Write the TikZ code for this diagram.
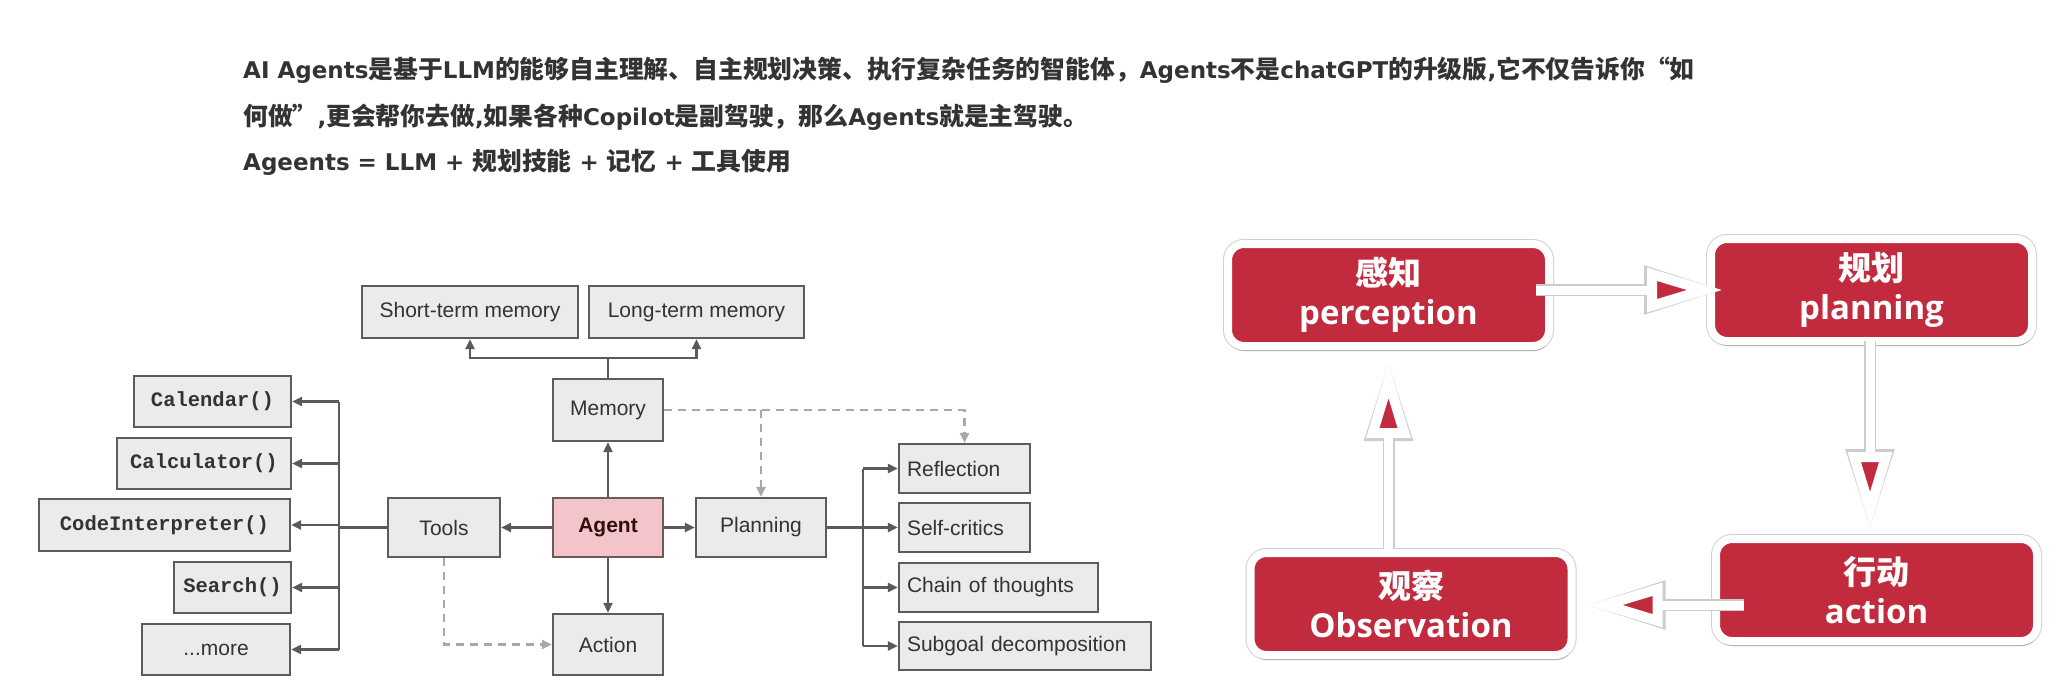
\documentclass[tikz,border=0pt]{standalone}
\usepackage{fontspec}
\setmainfont{Liberation Sans}
\newfontfamily\cjkf{Noto Sans CJK SC}
\newfontfamily\osf{Open Sans}
\newfontfamily\dvf{DejaVu Sans}
\newfontfamily\monof{Liberation Mono}
\usetikzlibrary{arrows.meta,shadows,calc}
\definecolor{boxgray}{HTML}{EBEBEB}
\definecolor{bordgray}{HTML}{5C5C5C}
\definecolor{conngray}{HTML}{5A5A5A}
\definecolor{dashgray}{HTML}{A8A8A8}
\definecolor{agpink}{HTML}{F3C5CA}
\definecolor{agbord}{HTML}{6E5A5A}
\definecolor{txtgray}{HTML}{333333}
\definecolor{boxred}{HTML}{C22B3D}
\newcommand\lat[1]{{\dvf\fontsize{23}{28}\selectfont #1}}
\newcommand\latb[1]{{\osf #1}}
\begin{document}
\begin{tikzpicture}[x=1pt,y=-1pt,
  toptext/.style={inner sep=0, anchor=base west, text=txtgray, font=\cjkf\bfseries\fontsize{24.8}{28}\selectfont},
  gbox/.style={draw=bordgray, fill=boxgray, line width=2.2, inner sep=0, text=txtgray, font=\fontsize{21}{25}\selectfont},
  agbox/.style={gbox, draw=agbord, fill=agpink, text={rgb,255:red,50;green,15;blue,15}, font=\bfseries\fontsize{21}{25}\selectfont},
  subbox/.style={gbox, inner xsep=8, align=left, minimum height=49},
  toolbox/.style={gbox, minimum height=51, font=\monof\bfseries\fontsize{20.5}{25}\selectfont},
  conn/.style={draw=conngray, line width=2.4, -{Triangle[length=10pt,width=9pt]}},
  bus/.style={draw=conngray, line width=2.4},
  dconn/.style={draw=dashgray, line width=2.2, dash pattern=on 8pt off 6pt, -{Triangle[length=10pt,width=9pt]}},
  rbox/.style={fill=boxred, draw=white, line width=8, rounded corners=16, minimum width=321, minimum height=102,
     align=center, text=white, font=\cjkf\bfseries\fontsize{33}{39}\selectfont,
     preaction={draw=black!18, line width=10},
     drop shadow={shadow xshift=1pt, shadow yshift=-5pt, opacity=0.18, fill=black}},
  bigarrow/.style={draw=white, line width=9, -{Triangle[length=76pt,width=42pt,fill=boxred,line width=10pt]},
     preaction={draw=black!20, line width=12, -{Triangle[length=79pt,width=46pt,fill=black!20,line width=12pt]}}}
]
\useasboundingbox (0,0) rectangle (2068,697);
\fill[white] (0,0) rectangle (2068,697);

% ---------- top text ----------
\node[toptext] (t1) at (243,78) {\lat{AI Agents}是基于\lat{LLM}的能够自主理解、自主规划决策、执行复杂任务的智能体，\lat{Agents}不是\lat{chatGPT}的升级版\lat{,}它不仅告诉你“如};
\node[toptext] (t2) at (243,125) {何做”\lat{,}更会帮你去做\lat{,}如果各种\lat{Copilot}是副驾驶，那么\lat{Agents}就是主驾驶。};
\node[toptext] (t3) at (243,170) {\lat{Ageents = LLM + }规划技能\lat{\ + }记忆\lat{\ + }工具使用};

% ---------- left diagram ----------
\node[gbox, minimum width=216, minimum height=52] (st) at (470,312) {Short-term memory};
\node[gbox, minimum width=215, minimum height=52] (lt) at (696.5,312) {Long-term memory};
\node[gbox, minimum width=110, minimum height=62] (mem) at (608,410) {Memory};
\node[agbox, minimum width=110, minimum height=59] (ag) at (608,527.5) {Agent};
\node[gbox, minimum width=112, minimum height=59] (tools) at (444,527.5) {Tools};
\node[gbox, minimum width=130, minimum height=59] (plan) at (761,527.5) {Planning};
\node[gbox, minimum width=110, minimum height=61] (act) at (608,644.5) {Action};

\node[subbox, text width=115] (refl) at (964.5,468.5) {Reflection};
\node[subbox, text width=115] (self) at (964.5,527.5) {Self-critics};
\node[subbox, text width=183] (chain) at (998.5,587.5) {Chain of thoughts};
\node[subbox, text width=236, minimum height=48] (subg) at (1025,646) {Subgoal decomposition};

\node[toolbox, minimum width=157] (cal) at (212.5,401.5) {Calendar()};
\node[toolbox, minimum width=174] (calc) at (204,463.5) {Calculator()};
\node[toolbox, minimum width=251, minimum height=52] (code) at (164.5,525) {CodeInterpreter()};
\node[toolbox, minimum width=117] (srch) at (232.5,587.5) {Search()};
\node[gbox, minimum width=148, minimum height=51] (more) at (216,649.5) {...more};

% memory children
\coordinate (mj) at (608,358);
\draw[bus] (mem.north) -- (mj);
\draw[conn] (mj) -| (st.south);
\draw[conn] (mj) -| (lt.south);
% agent
\draw[conn] (ag.north) -- (mem.south);
\draw[conn] (ag.south) -- (act.north);
\draw[conn] (ag.west) -- (tools.east);
\draw[conn] (ag.east) -- (plan.west);
% tools bus
\coordinate (tb) at (339,527.5);
\draw[bus] (tools.west) -- (tb);
\draw[bus] (tb |- cal.east) -- (tb |- more.east);
\draw[conn] (tb |- cal.east) -- (cal.east);
\draw[conn] (tb |- calc.east) -- (calc.east);
\draw[conn] (tb |- code.east) -- (code.east);
\draw[conn] (tb |- srch.east) -- (srch.east);
\draw[conn] (tb |- more.east) -- (more.east);
% planning bus
\coordinate (pb) at (863,527.5);
\draw[bus] (plan.east) -- (pb);
\draw[bus] (pb |- refl.west) -- (pb |- subg.west);
\draw[conn] (pb |- refl.west) -- (refl.west);
\draw[conn] (pb |- self.west) -- (self.west);
\draw[conn] (pb |- chain.west) -- (chain.west);
\draw[conn] (pb |- subg.west) -- (subg.west);
% dashed
\draw[dconn] (mem.east) -| (refl.north);
\draw[dconn] (plan.north |- mem.east) -- (plan.north);
\draw[dconn] (tools.south) |- (act.west);

% ---------- right diagram ----------
\node[rbox] (gz) at (1388.5,295) {感知\\\latb{perception}};
\node[rbox] (gh) at (1871.5,290) {规划\\\latb{planning}};
\node[rbox] (xd) at (1876.5,590) {行动\\\latb{action}};
\node[rbox] (gc) at (1411,604) {观察\\\latb{Observation}};

\draw[bigarrow] ($(gz.east |- gh.west)+(-17,0)$) -- ($(gh.west)+(16,0)$);
\draw[bigarrow] ($(gh.south)+(-1.5,-4)$) -- ($(gh.south |- xd.north)+(-1.5,-7)$);
\draw[bigarrow] ($(xd.west |- gc.east)+(32,1)$) -- ($(gc.east)+(11,1)$);
\draw[bigarrow] ($(gz.south |- gc.north)+(0,0)$) -- ($(gz.south)+(0,12)$);
\end{tikzpicture}
\end{document}
